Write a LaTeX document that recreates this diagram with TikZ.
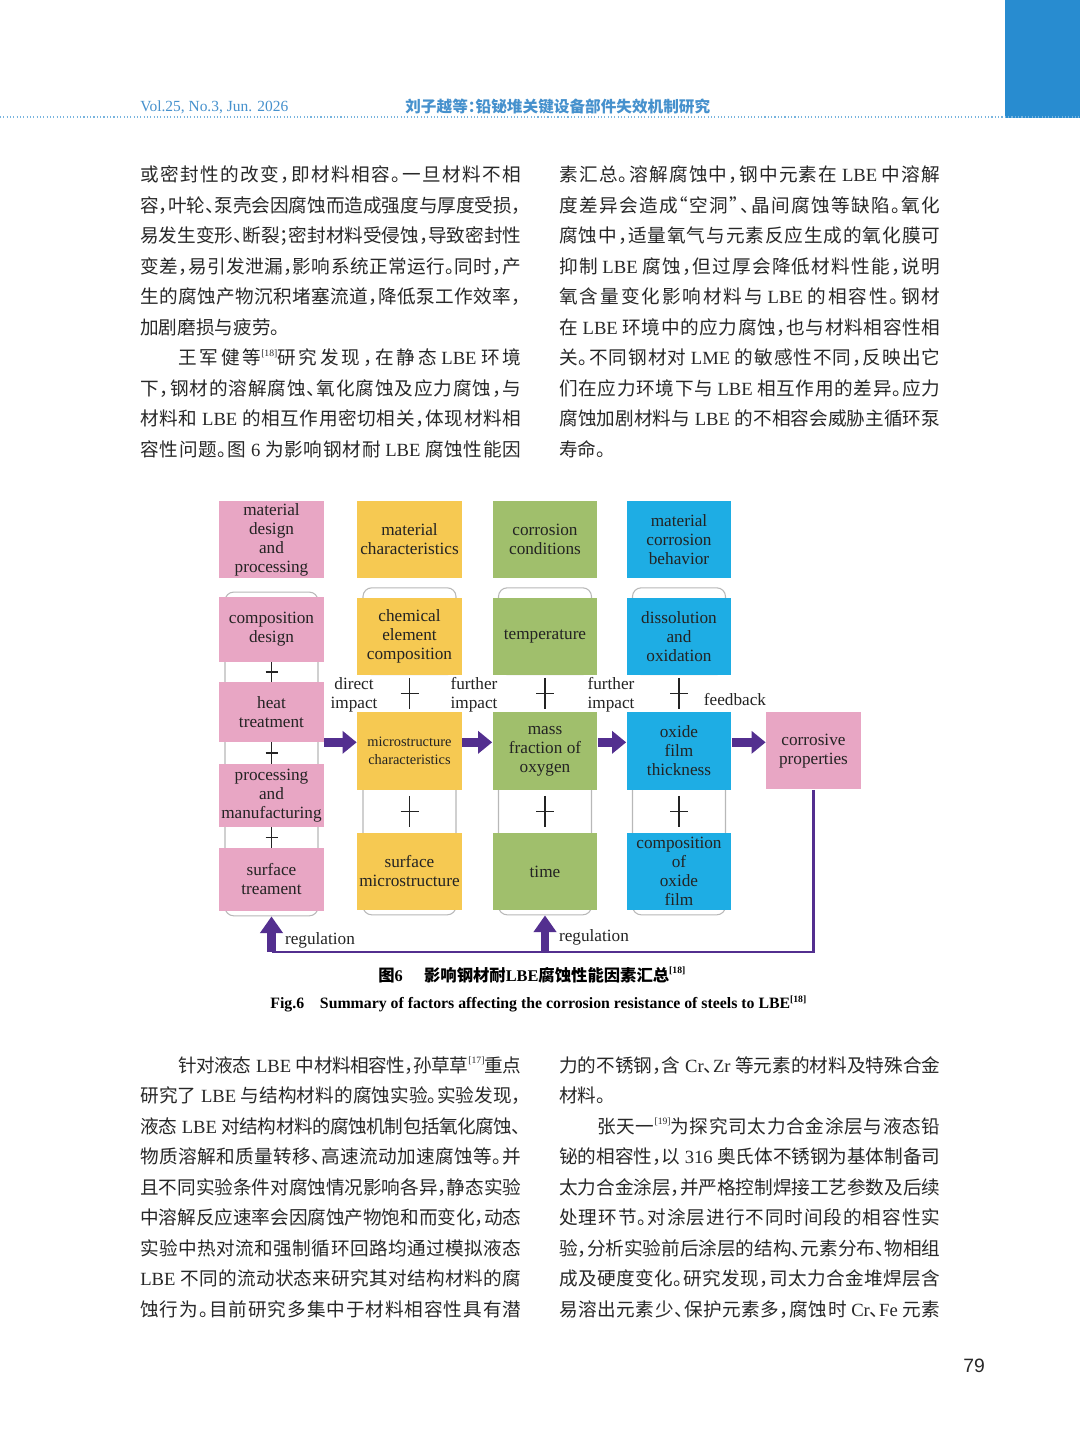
\documentclass[tikz,border=0pt]{standalone}
\usepackage{fontspec}
\setmainfont{Liberation Serif}
\setsansfont{Liberation Sans}
\newfontfamily\cjk[RawFeature=+halt]{Noto Sans CJK SC}
\usetikzlibrary{positioning,arrows.meta,fit,backgrounds,calc}

\newcount\cjkc
\cjkc="3000 \loop \XeTeXcharclass\cjkc=7 \advance\cjkc 1 \ifnum\cjkc<"3040 \repeat
\cjkc="4E00 \loop \XeTeXcharclass\cjkc=7 \advance\cjkc 1 \ifnum\cjkc<"A000 \repeat
\cjkc="FF00 \loop \XeTeXcharclass\cjkc=7 \advance\cjkc 1 \ifnum\cjkc<"FF60 \repeat
\XeTeXcharclass"201C=7 \XeTeXcharclass"201D=7
\XeTeXinterchartokenstate=1
\XeTeXinterchartoks 7 7 = {\hskip 0pt plus 3pt minus 0.5pt\relax}

\definecolor{cPink}{RGB}{232,166,196}
\definecolor{cYellow}{RGB}{246,201,82}
\definecolor{cGreen}{RGB}{160,191,108}
\definecolor{cBlue}{RGB}{30,173,228}
\definecolor{cViolet}{RGB}{83,47,143}
\definecolor{cInk}{RGB}{35,35,35}
\definecolor{cText}{RGB}{40,40,40}
\definecolor{cHeadBar}{RGB}{40,140,208}
\definecolor{cHeadText}{RGB}{70,145,205}
\definecolor{cDot}{RGB}{120,180,222}

\newcommand\gap{\kern0.25em}
\newcommand\latn[1]{{\rmfamily #1}}
\newcommand\lat[1]{\gap{\rmfamily #1}\gap}
\newcommand\refmark[1]{\raisebox{0.8ex}{\rmfamily\fontsize{5.5pt}{5.5pt}\selectfont[#1]}}
\newcommand\bodyfont{\cjk\fontsize{10.6pt}{12pt}\selectfont}
\newcommand\jl[1]{\makebox[7.62cm][s]{#1}}
\newcommand\ji[1]{\makebox[6.86cm][s]{#1}}

\begin{document}
\begin{tikzpicture}[x=0.02cm, y=-0.02cm, on grid,
  box/.style={rectangle, minimum width=2.1cm, inner sep=1pt, align=center, text=cInk,
    font=\rmfamily\fontsize{9.8pt}{10.8pt}\selectfont},
  tag/.style={align=center, inner sep=0pt, text=cInk, font=\rmfamily\fontsize{9.8pt}{10.8pt}\selectfont},
  colframe/.style={draw=black!28, line width=0.6pt, rounded corners=5pt, inner xsep=-3.6pt, inner ysep=2.6pt},
  plusbar/.style={draw=cInk, line width=0.8pt},
  flow/.style={draw=cViolet, line width=5pt, -{Triangle[length=8pt,width=12.5pt]}},
  lift/.style={draw=cViolet, line width=5pt, -{Triangle[length=9.5pt,width=12.5pt]}},
  loopline/.style={draw=cViolet, line width=1.4pt},
  textline/.style={anchor=base west, inner sep=0pt, text=cText, font=\bodyfont}]

\useasboundingbox (0,0) rectangle (1080,1455);

% running head
\fill[cHeadBar] (1005,0) rectangle (1080,118);
\draw[cDot, line width=0.7pt, dash pattern=on 0.6pt off 1.3pt] (0,117) -- (1080,117);
\node[anchor=base west, inner sep=0pt, text=cHeadText, font=\rmfamily\fontsize{8.8pt}{10pt}\selectfont] (vol) at (140,111) {Vol.25, No.3, Jun. 2026};
\node[anchor=base west, inner sep=0pt, text=cHeadText, font=\cjk\bfseries\fontsize{8.9pt}{10pt}\selectfont] (run) at (405,112) {刘子越等：铅铋堆关键设备部件失效机制研究};

% upper text
\node[textline] (a1) at (140,181.5) {\jl{或密封性的改变，即材料相容。一旦材料不相}};
\node[textline] (a2) at (140,212) {\jl{容，叶轮、泵壳会因腐蚀而造成强度与厚度受损，}};
\node[textline] (a3) at (140,242.5) {\jl{易发生变形、断裂；密封材料受侵蚀，导致密封性}};
\node[textline] (a4) at (140,273) {\jl{变差，易引发泄漏，影响系统正常运行。同时，产}};
\node[textline] (a5) at (140,303.5) {\jl{生的腐蚀产物沉积堵塞流道，降低泵工作效率，}};
\node[textline] (a6) at (140,334) {加剧磨损与疲劳。};
\node[textline] (a7) at (178,364.5) {\ji{王军健等\refmark{18}研究发现，在静态\lat{LBE}环境}};
\node[textline] (a8) at (140,395) {\jl{下，钢材的溶解腐蚀、氧化腐蚀及应力腐蚀，与}};
\node[textline] (a9) at (140,425.5) {\jl{材料和\lat{LBE}的相互作用密切相关，体现材料相}};
\node[textline] (a10) at (140,456) {\jl{容性问题。图\lat{6}为影响钢材耐\lat{LBE}腐蚀性能因}};

\node[textline] (b1) at (559,181.5) {\jl{素汇总。溶解腐蚀中，钢中元素在\lat{LBE}中溶解}};
\node[textline] (b2) at (559,212) {\jl{度差异会造成“空洞”、晶间腐蚀等缺陷。氧化}};
\node[textline] (b3) at (559,242.5) {\jl{腐蚀中，适量氧气与元素反应生成的氧化膜可}};
\node[textline] (b4) at (559,273) {\jl{抑制\lat{LBE}腐蚀，但过厚会降低材料性能，说明}};
\node[textline] (b5) at (559,303.5) {\jl{氧含量变化影响材料与\lat{LBE}的相容性。钢材}};
\node[textline] (b6) at (559,334) {\jl{在\lat{LBE}环境中的应力腐蚀，也与材料相容性相}};
\node[textline] (b7) at (559,364.5) {\jl{关。不同钢材对\lat{LME}的敏感性不同，反映出它}};
\node[textline] (b8) at (559,395) {\jl{们在应力环境下与\lat{LBE}相互作用的差异。应力}};
\node[textline] (b9) at (559,425.5) {\jl{腐蚀加剧材料与\lat{LBE}的不相容会威胁主循环泵}};
\node[textline] (b10) at (559,456) {寿命。};

% figure
\node[box, fill=cPink, minimum height=1.54cm] (mdp) at (271.5,539.5) {material\\design\\and\\processing};
\node[box, fill=cYellow, minimum height=1.54cm] (mc) at (409.5,539.5) {material\\characteristics};
\node[box, fill=cGreen, minimum height=1.54cm] (cc) at (545,539.5) {corrosion\\conditions};
\node[box, fill=cBlue, minimum height=1.54cm] (mcb) at (679,539.5) {material\\corrosion\\behavior};

\node[box, fill=cPink, minimum height=1.3cm] (cd) [below=1.8cm of mdp] {composition\\design};
\node[box, fill=cPink, minimum height=1.2cm] (ht) [below=1.65cm of cd] {heat\\treatment};
\node[box, fill=cPink, minimum height=1.26cm] (pm) [below=1.67cm of ht] {processing\\and\\manufacturing};
\node[box, fill=cPink, minimum height=1.26cm] (st) [below=1.68cm of pm] {surface\\treament};

\node[box, fill=cYellow, minimum height=1.54cm] (cec) [below=1.94cm of mc] {chemical\\element\\composition};
\node[box, fill=cYellow, minimum height=1.56cm, font=\rmfamily\fontsize{8.2pt}{10.2pt}\selectfont] (msc) [below=2.29cm of cec] {microstructure\\characteristics};
\node[box, fill=cYellow, minimum height=1.54cm] (sm) [below=2.41cm of msc] {surface\\microstructure};

\node[box, fill=cGreen, minimum height=1.54cm] (tmp) [below=1.94cm of cc] {temperature};
\node[box, fill=cGreen, minimum height=1.56cm] (mfo) [below=2.29cm of tmp] {mass\\fraction of\\oxygen};
\node[box, fill=cGreen, minimum height=1.54cm] (tim) [below=2.41cm of mfo] {time};

\node[box, fill=cBlue, minimum height=1.54cm] (dao) [below=1.94cm of mcb] {dissolution\\and\\oxidation};
\node[box, fill=cBlue, minimum height=1.56cm] (oft) [below=2.29cm of dao] {oxide\\film\\thickness};
\node[box, fill=cBlue, minimum height=1.54cm] (cof) [below=2.41cm of oft] {composition\\of\\oxide\\film};

\node[box, fill=cPink, minimum width=1.9cm, minimum height=1.54cm] (cp) [right=2.69cm of oft] {corrosive\\properties};

\begin{scope}[on background layer]
  \fill[white] (0,0) rectangle (1080,1455);
  \node[colframe, fit=(cd)(st)] (pfr) {};
  \node[colframe, fit=(cec), yshift=3pt] (yfr0) {};
  \node[colframe, fit=(msc.center)(sm)] (yfr) {};
  \node[colframe, fit=(tmp), yshift=3pt] (gfr0) {};
  \node[colframe, fit=(mfo.center)(tim)] (gfr) {};
  \node[colframe, fit=(dao), yshift=3pt] (bfr0) {};
  \node[colframe, fit=(oft.center)(cof)] (bfr) {};
\end{scope}

\draw[plusbar] (cd.south) -- (ht.north) ($(cd.south)!.5!(ht.north)$) +(-6,0) -- +(6,0);
\draw[plusbar] (ht.south) -- (pm.north) ($(ht.south)!.5!(pm.north)$) +(-6,0) -- +(6,0);
\draw[plusbar] (pm.south) -- (st.north) ($(pm.south)!.5!(st.north)$) +(-6,0) -- +(6,0);
\draw[plusbar] ($(cec.south)!.5!(msc.north)$) +(0,-15.5) -- +(0,15.5) +(-9,0) -- +(9,0);
\draw[plusbar] ($(msc.south)!.5!(sm.north)$) +(0,-15.5) -- +(0,15.5) +(-9,0) -- +(9,0);
\draw[plusbar] ($(tmp.south)!.5!(mfo.north)$) +(0,-15.5) -- +(0,15.5) +(-9,0) -- +(9,0);
\draw[plusbar] ($(mfo.south)!.5!(tim.north)$) +(0,-15.5) -- +(0,15.5) +(-9,0) -- +(9,0);
\draw[plusbar] ($(dao.south)!.5!(oft.north)$) +(0,-15.5) -- +(0,15.5) +(-9,0) -- +(9,0);
\draw[plusbar] ($(oft.south)!.5!(cof.north)$) +(0,-15.5) -- +(0,15.5) +(-9,0) -- +(9,0);

\draw[flow] (ht.south east) -- (ht.south east -| msc.west);
\draw[flow] (ht.south east -| msc.east) -- (ht.south east -| mfo.west);
\draw[flow] (ht.south east -| mfo.east) -- (ht.south east -| oft.west);
\draw[flow] (ht.south east -| oft.east) -- (ht.south east -| cp.west);

\coordinate (fb) at (0,952);
\draw[loopline] (cp.south) |- (fb -| pfr.south);
\draw[lift] (fb -| pfr.south) -- (pfr.south);
\draw[lift] (fb -| gfr.south) -- (gfr.south);

\node[tag] (t1) at (354,695) {direct\\impact};
\node[tag] (t2) at (474,695) {further\\impact};
\node[tag] (t3) at (611,695) {further\\impact};
\node[tag] (t4) at (735,700) {feedback};
\node[tag] (r1) at (320,940) {regulation};
\node[tag] (r2) at (594,937) {regulation};

% captions
\node[anchor=base west, inner sep=0pt, text=black, font=\cjk\bfseries\fontsize{9.3pt}{10pt}\selectfont] (capzh) at (378,981) {图\latn{6}\hspace{1.3em}影响钢材耐\latn{LBE}腐蚀性能因素汇总\refmark{18}};
\node[anchor=base west, inner sep=0pt, text=black, font=\rmfamily\bfseries\fontsize{9pt}{10pt}\selectfont] (capen) at (270,1008) {Fig.6\hspace{1em}Summary of factors affecting the corrosion resistance of steels to LBE\refmark{18}};

% lower text
\node[textline] (c1) at (178,1072) {\ji{针对液态\lat{LBE}中材料相容性，孙草草\refmark{17}重点}};
\node[textline] (c2) at (140,1102.5) {\jl{研究了\lat{LBE}与结构材料的腐蚀实验。实验发现，}};
\node[textline] (c3) at (140,1133) {\jl{液态\lat{LBE}对结构材料的腐蚀机制包括氧化腐蚀、}};
\node[textline] (c4) at (140,1163.5) {\jl{物质溶解和质量转移、高速流动加速腐蚀等。并}};
\node[textline] (c5) at (140,1194) {\jl{且不同实验条件对腐蚀情况影响各异，静态实验}};
\node[textline] (c6) at (140,1224.5) {\jl{中溶解反应速率会因腐蚀产物饱和而变化，动态}};
\node[textline] (c7) at (140,1255) {\jl{实验中热对流和强制循环回路均通过模拟液态}};
\node[textline] (c8) at (140,1285.5) {\jl{\latn{LBE}\gap 不同的流动状态来研究其对结构材料的腐}};
\node[textline] (c9) at (140,1316) {\jl{蚀行为。目前研究多集中于材料相容性具有潜}};

\node[textline] (d1) at (559,1072) {\jl{力的不锈钢，含\gap\latn{Cr}、\latn{Zr}\gap 等元素的材料及特殊合金}};
\node[textline] (d2) at (559,1102.5) {材料。};
\node[textline] (d3) at (597,1133) {\ji{张天一\refmark{19}为探究司太力合金涂层与液态铅}};
\node[textline] (d4) at (559,1163.5) {\jl{铋的相容性，以\lat{316}奥氏体不锈钢为基体制备司}};
\node[textline] (d5) at (559,1194) {\jl{太力合金涂层，并严格控制焊接工艺参数及后续}};
\node[textline] (d6) at (559,1224.5) {\jl{处理环节。对涂层进行不同时间段的相容性实}};
\node[textline] (d7) at (559,1255) {\jl{验，分析实验前后涂层的结构、元素分布、物相组}};
\node[textline] (d8) at (559,1285.5) {\jl{成及硬度变化。研究发现，司太力合金堆焊层含}};
\node[textline] (d9) at (559,1316) {\jl{易溶出元素少、保护元素多，腐蚀时\gap\latn{Cr}、\latn{Fe}\gap 元素}};

\node[text=cText, font=\sffamily\fontsize{11pt}{12pt}\selectfont] (pg) at (974,1366) {79};

\end{tikzpicture}
\end{document}
